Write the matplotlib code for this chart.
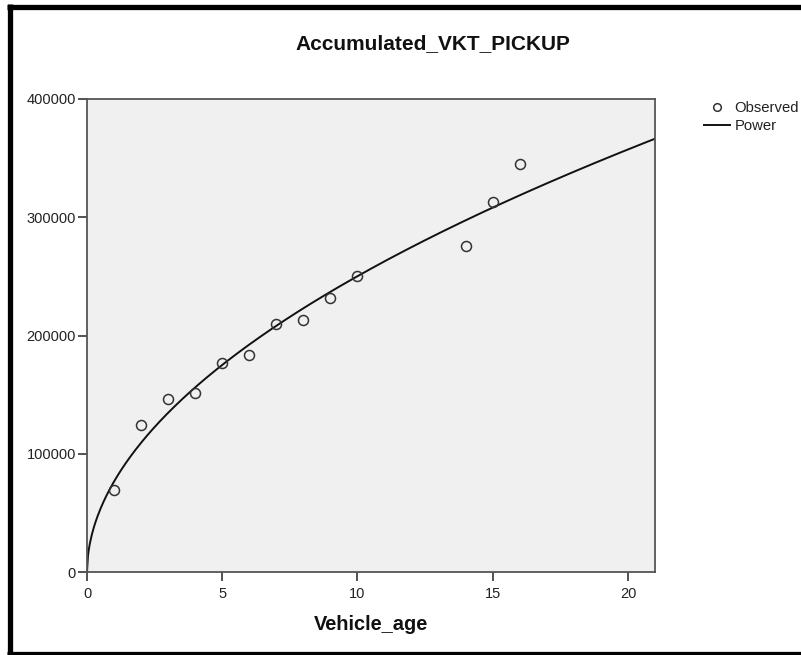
import numpy as np
import matplotlib
matplotlib.use("Agg")
import matplotlib.pyplot as plt
from matplotlib.lines import Line2D

plt.rcParams["font.family"] = ["Liberation Sans", "DejaVu Sans"]

# Observed accumulated vehicle-km travelled by vehicle age
vehicle_age = [1, 2, 3, 4, 5, 6, 7, 8, 9, 10, 14, 15, 16]
accumulated_vkt = [69000, 124500, 146500, 151500, 176500, 183800, 210000,
                   212800, 231400, 250300, 275700, 312600, 345000]
x_ticks = [0, 5, 10, 15, 20]
y_ticks = [0, 100000, 200000, 300000, 400000]

# Power model y = a * x^b, fitted by least squares on the log scale
b, log_a = np.polyfit(np.log(vehicle_age), np.log(accumulated_vkt), 1)
a = np.exp(log_a)
x_fit = np.linspace(0, 21.5, 600)
y_fit = a * x_fit ** b

W, H = 801, 655
fig = plt.figure(figsize=(W / 100, H / 100), dpi=100)
fig.patch.set_facecolor("white")

ax = fig.add_axes([87 / W, (H - 572) / H, (655 - 87) / W, (572 - 99) / H])
ax.set_facecolor("#f0f0f0")

ax.plot(x_fit, y_fit, color="#111111", lw=1.4, zorder=2)
ax.plot(vehicle_age, accumulated_vkt, linestyle="none", marker="o",
        markersize=7.2, markerfacecolor="none", markeredgecolor="#333333",
        markeredgewidth=1.1, zorder=3)

ax.set_xlim(0, 21)
ax.set_ylim(0, 400000)
ax.set_xticks(x_ticks)
ax.set_xticklabels([str(t) for t in x_ticks])
ax.set_yticks(y_ticks)
ax.set_yticklabels([str(t) for t in y_ticks])

for s in ax.spines.values():
    s.set_color("#555555")
    s.set_linewidth(1.3)
ax.tick_params(axis="both", direction="out", length=6.5, width=1.3,
               color="#444444", labelsize=10.5, labelcolor="#222222")
ax.tick_params(axis="x", pad=4)
ax.tick_params(axis="y", pad=1.5)

# Title and axis label
fig.text(295 / W, 1 - 44 / H, "Accumulated_VKT_PICKUP", ha="left",
         va="center", fontsize=15, fontweight="bold", color="#111111")
fig.text(371 / W, 1 - 624 / H, "Vehicle_age", ha="center", va="center",
         fontsize=14.4, fontweight="bold", color="#111111")

# Legend
h_obs = Line2D([], [], linestyle="none", marker="o", markersize=5.5,
               markerfacecolor="none", markeredgecolor="#333333",
               markeredgewidth=1.1)
h_pow = Line2D([], [], color="#111111", lw=1.4)
fig.legend([h_obs, h_pow], ["Observed", "Power"], loc="upper left",
           bbox_to_anchor=(704 / W, 1 - 101 / H), frameon=False,
           fontsize=10.7, handlelength=1.75, handletextpad=0.3,
           labelspacing=0.3, borderpad=0, borderaxespad=0,
           labelcolor="#222222")

# Heavy frame along the left, top and bottom edges
frame_kw = dict(color="black", lw=3.8, solid_capstyle="butt",
                transform=fig.transFigure)
fig.add_artist(Line2D([9.5 / W, 9.5 / W], [1 - 4 / H, 1 - 656 / H], **frame_kw))
fig.add_artist(Line2D([7 / W, 1.0], [1 - 6.5 / H, 1 - 6.5 / H], **frame_kw))
fig.add_artist(Line2D([7 / W, 1.0], [1 - 654 / H, 1 - 654 / H], **frame_kw))

fig.savefig("out.png", dpi=100)
